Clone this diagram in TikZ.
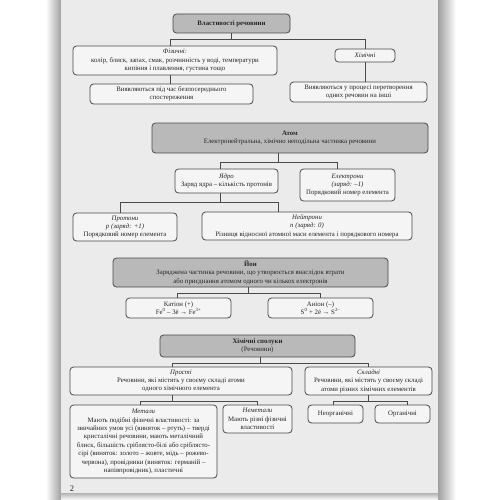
\documentclass[tikz,border=0pt]{standalone}
\usepackage{fontspec}
\setmainfont{Liberation Serif}
\usetikzlibrary{calc}
\definecolor{pagebg}{HTML}{EBEBEB}
\definecolor{boxbg}{HTML}{F5F5F5}
\definecolor{greybox}{HTML}{B9B9B9}
\definecolor{linec}{HTML}{4A4A4A}
\definecolor{txt}{HTML}{262626}
\begin{document}
\begin{tikzpicture}[x=1pt,y=-1pt,
  box/.style={draw=linec, line width=0.8pt, rounded corners=3.5pt, fill=boxbg, align=center,
    inner sep=1pt, font=\fontsize{6.8}{8.4}\selectfont, text=txt},
  gbox/.style={box, fill=greybox},
  conn/.style={draw=linec, line width=0.8pt}]
\useasboundingbox (0,0) rectangle (500,500);
% page and shadows
\fill[white] (0,0) rectangle (500,500);
\shade[left color=white, right color=gray!75] (46,0) rectangle (61,500);
\shade[left color=gray!75, right color=white] (438,0) rectangle (456,500);
\fill[pagebg] (61,0) rectangle (438,493);
\shade[top color=gray!60, bottom color=white] (61,493) rectangle (438,500);

% ---- Властивості речовини ----
\node[gbox, minimum width=117pt, minimum height=19pt] (vlast) at (231.5,23.5) {\textbf{Властивості речовини}};
\node[box, minimum width=204pt, minimum height=29pt] (fiz) at (175,60.5)
  {\textit{Фізичні:}\\колір, блиск, запах, смак, розчинність у воді, температури\\кипіння і плавлення, густина тощо};
\node[box, minimum width=60pt, minimum height=13pt] (khim) at (365,55.5) {\textit{Хімічні}};
\node[box, minimum width=163pt, minimum height=20pt] (viyav1) at (171.5,94)
  {Виявляються під час безпосереднього\\спостереження};
\node[box, minimum width=137pt, minimum height=20pt] (viyav2) at (358.5,92)
  {Виявляються у процесі перетворення\\одних речовин на інші};
\draw[conn] (vlast.south) -- ++(0,6) coordinate (b1);
\draw[conn] ([xshift=-5pt]fiz.north) |- (b1) -| (khim.north);
\draw[conn] ([xshift=-5pt]fiz.south) -- ([xshift=-5pt]fiz.south |- viyav1.north);
\draw[conn] (khim.south) -- (khim.south |- viyav2.north);

% ---- Атом ----
\node[gbox, minimum width=276pt, minimum height=30pt] (atom) at (290,138)
  {\textbf{Атом}\\Електронейтральна, хімічно неподільна частинка речовини};
\node[box, minimum width=103pt, minimum height=24pt] (yadro) at (226.5,181)
  {\textit{Ядро}\\Заряд ядра – кількість протонів};
\node[box, minimum width=95pt, minimum height=32pt] (elektr) at (347.5,185)
  {\textit{Електрони}\\\textit{(заряд: –1)}\\Порядковий номер елемента};
\node[box, minimum width=104pt, minimum height=28pt] (proton) at (125,227)
  {\textit{Протони}\\\textit{p (заряд: +1)}\\Порядковий номер елемента};
\node[box, minimum width=210pt, minimum height=28pt] (neutron) at (307,226)
  {\textit{Нейтрони}\\\textit{n (заряд: 0)}\\Різниця відносної атомної маси елемента і порядкового номера};
\draw[conn] ([xshift=-12pt]atom.south) -- ++(0,9) coordinate (b2);
\draw[conn] ([xshift=-6.5pt]yadro.north) |- (b2) -| ([xshift=-10.5pt]elektr.north);
\draw[conn] ([xshift=-6.5pt]yadro.south) -- ++(0,9) coordinate (b3);
\draw[conn] ([xshift=-5pt]proton.north) |- (b3) -| ([xshift=-29pt]neutron.north);

% ---- Йон ----
\node[gbox, minimum width=275pt, minimum height=29pt] (yon) at (250.5,272.5)
  {\textbf{Йон}\\Заряджена частинка речовини, що утворюється внаслідок втрати\\або приєднання атомом одного чи кількох електронів};
\node[box, minimum width=105pt, minimum height=20pt] (kation) at (178.5,308)
  {Катіон (+)\\\upshape Fe\textsuperscript{0} – 3ē → Fe\textsuperscript{3+}};
\node[box, minimum width=105pt, minimum height=20pt] (anion) at (320.5,308)
  {Аніон (–)\\\upshape S\textsuperscript{0} + 2ē → S\textsuperscript{2–}};
\draw[conn] ([xshift=-2.5pt]yon.south) -- ++(0,6) coordinate (b4);
\draw[conn] ([xshift=-1.5pt]kation.north) |- (b4) -| (anion.north);

% ---- Хімічні сполуки ----
\node[gbox, minimum width=195pt, minimum height=22pt] (spol) at (257.5,346)
  {\textbf{Хімічні сполуки}\\(Речовини)};
\node[box, minimum width=222pt, minimum height=28pt] (prosti) at (181,381)
  {\textit{Прості}\\Речовини, які містять у своєму складі атоми\\одного хімічного елемента};
\node[box, minimum width=127pt, minimum height=28pt] (skladni) at (368.5,381)
  {\textit{Складні}\\Речовини, які містять у своєму складі\\атоми різних хімічних елементів};
\node[box, minimum width=147pt, minimum height=73pt] (metaly) at (143.5,441.5)
  {\textit{Метали}\\Мають подібні фізичні властивості: за\\звичайних умов усі (виняток – ртуть) – тверді\\кристалічні речовини, мають металічний\\блиск, більшість сріблясто-білі або сріблясто-\\сірі (виняток: золото – жовте, мідь – рожево-\\червона), провідники (виняток: германій –\\напівпровідник), пластичні};
\node[box, minimum width=69pt, minimum height=28pt] (nemet) at (257.5,419)
  {\textit{Неметали}\\Мають різні фізичні\\властивості};
\node[box, minimum width=55pt, minimum height=18pt] (neorg) at (335.5,414) {Неорганічні};
\node[box, minimum width=55pt, minimum height=18pt] (org) at (402.5,414) {Органічні};
\draw[conn] ([xshift=2.5pt]spol.south) -- ++(0,6) coordinate (b5);
\draw[conn] ([xshift=-9pt]prosti.north) |- (b5) -| (skladni.north);
\draw[conn] ([xshift=-9pt]prosti.south) -- ++(0,6) coordinate (b6);
\draw[conn] ([xshift=-3.5pt]metaly.north) |- (b6) -| (nemet.north);
\draw[conn] (skladni.south) -- ++(0,6) coordinate (b7);
\draw[conn] ([xshift=-2.5pt]neorg.north) |- (b7) -| ([xshift=4.5pt]org.north);

\node[font=\fontsize{8.5}{10}\selectfont, text=txt] (pg) at (72,489) {2};
\end{tikzpicture}
\end{document}
